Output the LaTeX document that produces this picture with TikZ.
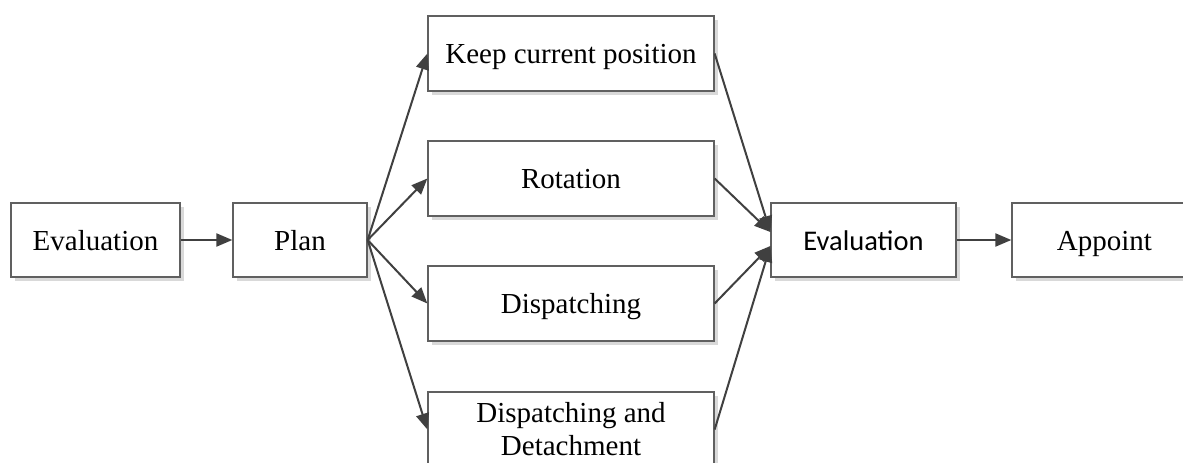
\documentclass[tikz,border=0pt]{standalone}
\usepackage{fontspec}
\setmainfont{Liberation Serif}
\newfontfamily\sansf{Carlito}
\usetikzlibrary{arrows.meta,shadows}
\definecolor{boxline}{HTML}{606060}
\definecolor{conn}{HTML}{404040}
\definecolor{shade}{HTML}{D9D9D9}
\begin{document}
\begin{tikzpicture}[x=1pt,y=-1pt,
  box/.style={draw=boxline, line width=1.3pt, fill=white, rectangle, inner sep=0pt,
    minimum height=74pt, align=center,
    general shadow={fill=shade, shadow xshift=3.5pt, shadow yshift=-3.5pt},
    font=\fontsize{29}{33}\selectfont},
  one/.style={text height=20pt, text depth=0pt},
  conn/.style={draw=conn, line width=2pt, -{Triangle[length=16pt,width=13pt]}}]
\clip (0,0) rectangle (1183,463);
\fill[white] (0,0) rectangle (1183,463);
\node[box, one, minimum width=169pt] (ev1) at (95.5,240) {Evaluation};
\node[box, one, minimum width=134pt] (plan) at (300,240) {Plan};
\node[box, one, minimum width=286pt, minimum height=75pt] (keep) at (571,53.5) {Keep current position};
\node[box, one, minimum width=286pt, minimum height=75pt] (rot) at (571,178.5) {Rotation};
\node[box, one, minimum width=286pt, minimum height=75pt] (disp) at (571,303.5) {Dispatching};
\node[box, minimum width=286pt, minimum height=75pt] (det) at (571,429.5) {Dispatching and\\Detachment};
\node[box, one, minimum width=185pt, font=\sansf\fontsize{28.5}{33}\selectfont] (ev2) at (863.5,240) {Evaluation};
\node[box, one, minimum width=185pt] (app) at (1104.5,240) {Appoint};
\draw[conn] (ev1.east) -- (plan.west);
\draw[conn] (plan.east) -- (keep.west);
\draw[conn] (plan.east) -- (rot.west);
\draw[conn] (plan.east) -- (disp.west);
\draw[conn] (plan.east) -- (det.west);
\draw[conn] (keep.east) -- ([yshift=8pt]ev2.west);
\draw[conn] (rot.east) -- ([yshift=8pt]ev2.west);
\draw[conn] (disp.east) -- ([yshift=-6pt]ev2.west);
\draw[conn] (det.east) -- ([yshift=-6pt]ev2.west);
\draw[conn] (ev2.east) -- (app.west);
\end{tikzpicture}
\end{document}
